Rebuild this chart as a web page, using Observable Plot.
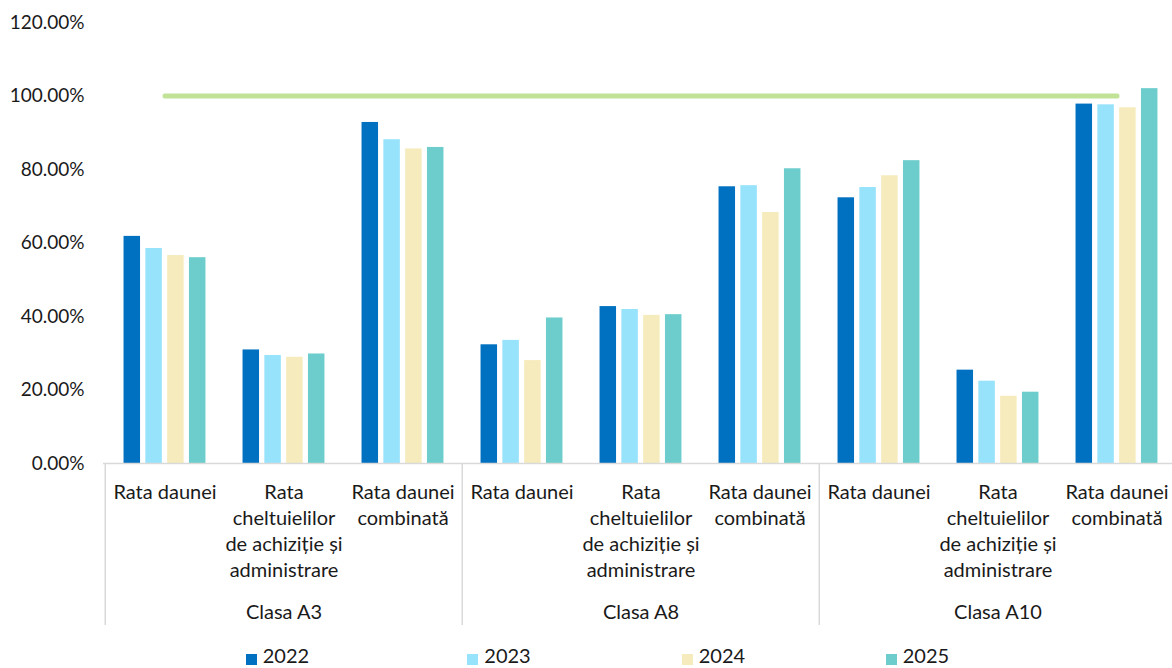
<!DOCTYPE html>
<html><head><meta charset="utf-8">
<script src="https://cdn.jsdelivr.net/npm/d3@7"></script>
<script src="https://cdn.jsdelivr.net/npm/@observablehq/plot@0.6"></script>
<style>
body{margin:0;background:#fff;font-family:Lato,sans-serif;}
#legend{position:relative;height:26px;width:1172px;}
.item{position:absolute;top:0;height:26px;font-size:20px;color:#1a1a1a;line-height:26px;white-space:nowrap;}
.sw{position:absolute;top:12px;width:11px;height:11px;}
</style></head><body>
<div id="chart"></div>
<div id="legend"></div>
<script>
const classes = ["Clasa A3", "Clasa A8", "Clasa A10"];
const indicators = ["Rata daunei", "Rata cheltuielilor de achiziție și administrare", "Rata daunei combinată"];
const indicatorLabels = ["Rata daunei", "Rata\ncheltuielilor\nde achiziție și\nadministrare", "Rata daunei\ncombinată"];
const years = ["2022", "2023", "2024", "2025"];
const yearColors = ["#0070C0", "#97E3FC", "#F6EBBD", "#6DCDCD"];
// order: A3 (daune, cheltuieli, combinata), A8 (...), A10 (...)
const values2022 = [0.618, 0.309, 0.928, 0.323, 0.427, 0.753, 0.723, 0.254, 0.978];
const values2023 = [0.585, 0.294, 0.881, 0.335, 0.419, 0.756, 0.751, 0.224, 0.976];
const values2024 = [0.566, 0.289, 0.856, 0.280, 0.403, 0.683, 0.783, 0.183, 0.968];
const values2025 = [0.560, 0.298, 0.860, 0.396, 0.405, 0.802, 0.824, 0.194, 1.020];
const targetValue = 1.0;
const yTicks = [0, 0.2, 0.4, 0.6, 0.8, 1.0, 1.2];

const seriesValues = [values2022, values2023, values2024, values2025];
const keys = [];
const labelOf = new Map();
classes.forEach((c) => indicators.forEach((ind, ii) => {
  const k = c + " | " + ind;
  keys.push(k);
  labelOf.set(k, indicatorLabels[ii]);
}));
const rows = [];
years.forEach((yr, yi) => keys.forEach((k, ki) => rows.push({key: k, year: yr, value: seriesValues[yi][ki]})));

const W = 1172, H = 642;
const axisY0 = 463, plotTop = 22;
const xRange = [103, 1178.5];
const step = (xRange[1] - xRange[0]) / keys.length;
const inner = d3.scaleBand().domain(years).range([0, step]).paddingInner(0.22).paddingOuter(0.85);
const font = "Lato, sans-serif";
const textColor = "#1a1a1a";

const groupStarts = classes.map((c, ci) => keys[ci * 3]);
const groupMids = classes.map((c, ci) => ({key: keys[ci * 3 + 1], label: c}));

const chart = Plot.plot({
  width: W, height: H,
  marginLeft: 103, marginRight: 0, marginTop: plotTop, marginBottom: H - axisY0,
  style: {fontFamily: font, background: "#fff"},
  x: {domain: keys, range: xRange, padding: 0, axis: null},
  y: {domain: [0, 1.2], axis: null},
  marks: [
    Plot.axisY({ticks: yTicks, tickFormat: d3.format(".2%"), tickSize: 0, tickPadding: 19, fontSize: 19, fill: textColor, label: null}),
    ...years.map((yr, i) => Plot.barY(rows.filter(r => r.year === yr), {
      x: "key", y: "value", fill: yearColors[i],
      insetLeft: inner(yr), insetRight: step - inner(yr) - inner.bandwidth()
    })),
    Plot.ruleY([0], {stroke: "#d9d9d9", strokeWidth: 1.5}),
    Plot.ruleX(groupStarts, {x: d => d, dx: -step / 2, stroke: "#d9d9d9", strokeWidth: 1.5,
      insetTop: axisY0 - plotTop, insetBottom: -(625 - axisY0)}),
    Plot.lineY(keys, {x: d => d, y: () => targetValue, stroke: "#C0E396", strokeWidth: 5, strokeLinecap: "round"}),
    Plot.text(keys, {x: d => d, text: d => labelOf.get(d), frameAnchor: "bottom", lineAnchor: "top",
      dy: 17, fontSize: 20, lineHeight: 1.3, fill: textColor}),
    Plot.text(groupMids, {x: "key", text: "label", frameAnchor: "bottom", lineAnchor: "middle",
      dy: 149, fontSize: 20, fill: textColor})
  ]
});
document.getElementById("chart").appendChild(chart);

const legendLefts = [245.7, 467.3, 681.7, 885.7];
const legend = document.getElementById("legend");
years.forEach((yr, i) => {
  const it = document.createElement("div");
  it.className = "item";
  it.style.left = legendLefts[i] + "px";
  it.innerHTML = `<span class="sw" style="background:${yearColors[i]};left:0"></span><span style="margin-left:17px">${yr}</span>`;
  legend.appendChild(it);
});
</script>
</body></html>
